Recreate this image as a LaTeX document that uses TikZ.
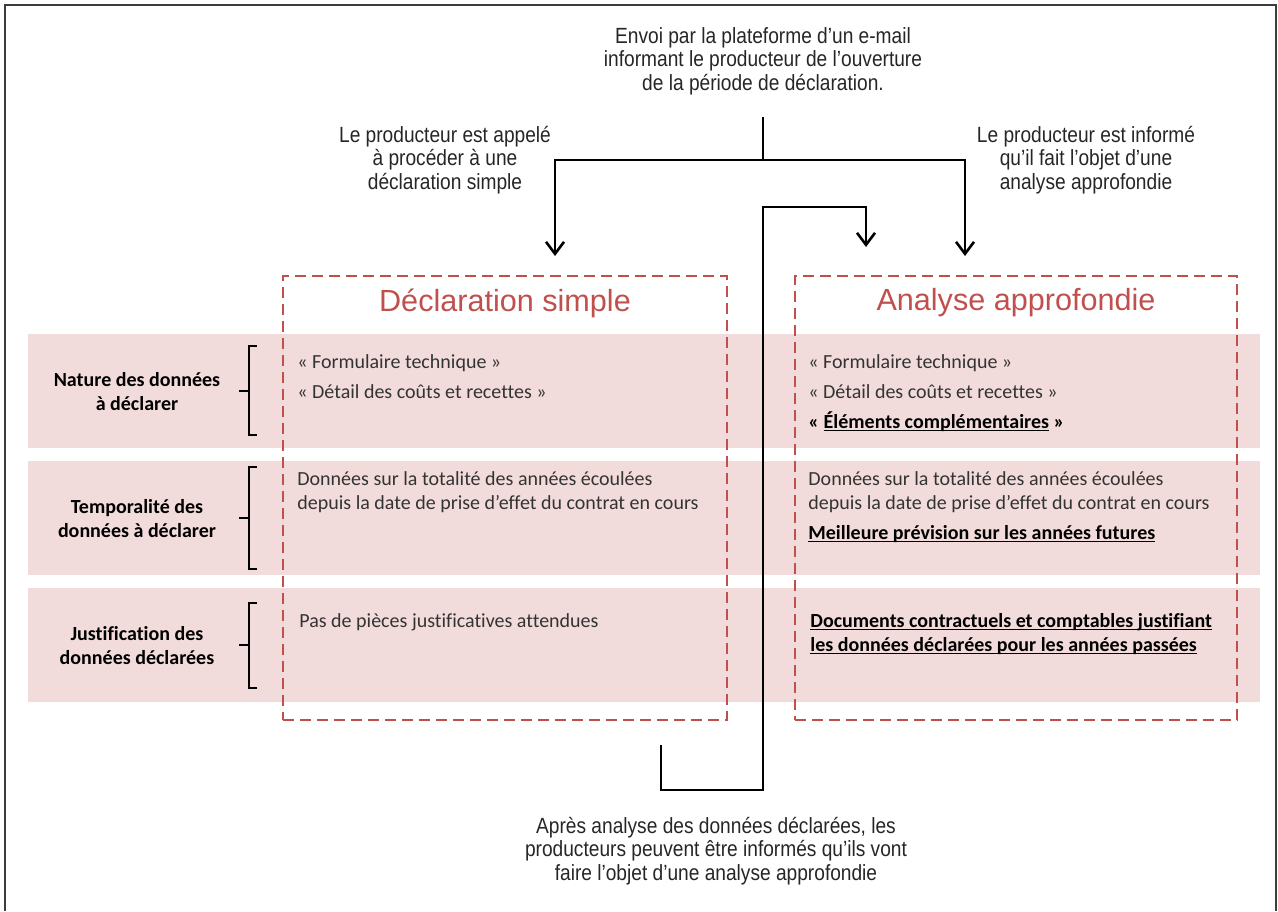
\documentclass[tikz,border=0pt]{standalone}
\usepackage{fontspec}
\setmainfont{Carlito}[Ligatures=NoCommon]
\newfontfamily\narrowf[FakeStretch=0.87]{Liberation Sans}
\newfontfamily\titlef{Liberation Sans}
\usetikzlibrary{arrows.meta}
\definecolor{boxred}{HTML}{C0504D}
\definecolor{bandpink}{HTML}{F2DCDB}
\definecolor{txtgray}{HTML}{333333}
\definecolor{framegray}{HTML}{3C3C3C}
\newsavebox\ulbox
\newcommand\myul[1]{\sbox\ulbox{#1}\rlap{\rule[-1.6pt]{\wd\ulbox}{0.55pt}}\usebox\ulbox}
\tikzset{
  frameline/.style={draw=framegray, line width=1pt},
  bandbox/.style={fill=bandpink, draw=none, inner sep=0pt, minimum width=616pt, minimum height=57pt},
  dbox/.style={draw=boxred, line width=0.75pt, dash pattern=on 5.5pt off 3pt, inner sep=0pt, minimum height=222pt},
  titlestyle/.style={text=boxred, font=\fontsize{15.3}{18}\titlef, inner sep=0pt},
  cell/.style={text=txtgray, font=\fontsize{10}{12}\selectfont, inner sep=0pt, anchor=base west},
  cellb/.style={text=black, font=\fontsize{10}{12}\selectfont\bfseries, inner sep=0pt, anchor=base west},
  rowlab/.style={text=black, font=\fontsize{10}{12}\selectfont\bfseries, align=center, inner sep=0pt},
  flowlab/.style={text=black!85, font=\fontsize{11}{11.75}\narrowf, align=center, inner sep=0pt},
  arr/.style={line width=1.3pt, -{Straight Barb[length=6pt,width=9pt]}},
  plainline/.style={line width=1.3pt},
  brk/.style={line width=1pt, black}
}
\begin{document}
\begin{tikzpicture}[x=0.5pt,y=-0.5pt]
\useasboundingbox (0,0) rectangle (1278,911);
\draw[frameline] (5,911) -- (5,5) -- (1276,5) -- (1276,911);

% bands
\node[bandbox] (band1) at (644,391) {};
\node[bandbox] (band2) at (644,518) {};
\node[bandbox] (band3) at (644,645) {};

% dashed boxes
\node[dbox, minimum width=222pt] (ds) at (505,498) {};
\node[dbox, minimum width=221pt] (aa) at (1016,498) {};
\node[titlestyle] (tds) at (505,303) {Déclaration simple};
\node[titlestyle] (taa) at (1016,303) {Analyse approfondie};

% row labels
\node[rowlab] (r1) at (137,392) {Nature des données\\à déclarer};
\node[rowlab] (r2) at (137,519) {Temporalité des\\données à déclarer};
\node[rowlab] (r3) at (137,646) {Justification des\\données déclarées};

% brackets
\draw[brk] (257,346) -- (249,346) -- (249,435) -- (257,435);
\draw[brk] (239,391) -- (249,391);
\draw[brk] (257,467) -- (249,467) -- (249,569) -- (257,569);
\draw[brk] (239,518) -- (249,518);
\draw[brk] (257,603) -- (249,603) -- (249,688) -- (257,688);
\draw[brk] (239,645) -- (249,645);

% left box texts
\node[cell] (ds1) at (297,368) {« Formulaire technique »};
\node[cell] (ds2) at (297,398) {« Détail des coûts et recettes »};
\node[cell] (ds3) at (297,485) {Données sur la totalité des années écoulées};
\node[cell] (ds4) at (297,509) {depuis la date de prise d’effet du contrat en cours};
\node[cell] (ds5) at (299,627) {Pas de pièces justificatives attendues};

% right box texts
\node[cell] (aa1) at (808,368) {« Formulaire technique »};
\node[cell] (aa2) at (808,398) {« Détail des coûts et recettes »};
\node[cellb] (aa3) at (808,428) {« \myul{Éléments complémentaires} »};
\node[cell] (aa4) at (808,485) {Données sur la totalité des années écoulées};
\node[cell] (aa5) at (808,509) {depuis la date de prise d’effet du contrat en cours};
\node[cellb] (aa6) at (808,539) {\myul{Meilleure prévision sur les années futures}};
\node[cellb] (aa7) at (810,627) {\myul{Documents contractuels et comptables justifiant}};
\node[cellb] (aa8) at (810,651) {\myul{les données déclarées pour les années passées}};

% flow labels
\node[flowlab] (envoi) at (763,61) {Envoi par la plateforme d’un e-mail\\informant le producteur de l’ouverture\\de la période de déclaration.};
\node[flowlab] (labL) at (445,160) {Le producteur est appelé\\à procéder à une\\déclaration simple};
\node[flowlab] (labR) at (1086,160) {Le producteur est informé\\qu’il fait l’objet d’une\\analyse approfondie};
\node[flowlab] (labB) at (716,851) {Après analyse des données déclarées, les\\producteurs peuvent être informés qu’ils vont\\faire l’objet d’une analyse approfondie};

% connectors
\coordinate (stemtop) at (763,117);
\coordinate (split) at (763,160);
\coordinate (tipL) at (555,256);
\coordinate (tipR) at (965,256);
\draw[plainline] (stemtop) -- (split);
\draw[arr] (split) -| (tipL);
\draw[arr] (split) -| (tipR);

\coordinate (fbA) at (661,745);
\coordinate (fbC) at (763,790);
\coordinate (fbB) at (763,207);
\coordinate (fbtip) at (866,247);
\draw[arr] (fbA) |- (fbC) -- (fbB) -| (fbtip);
\end{tikzpicture}
\end{document}
